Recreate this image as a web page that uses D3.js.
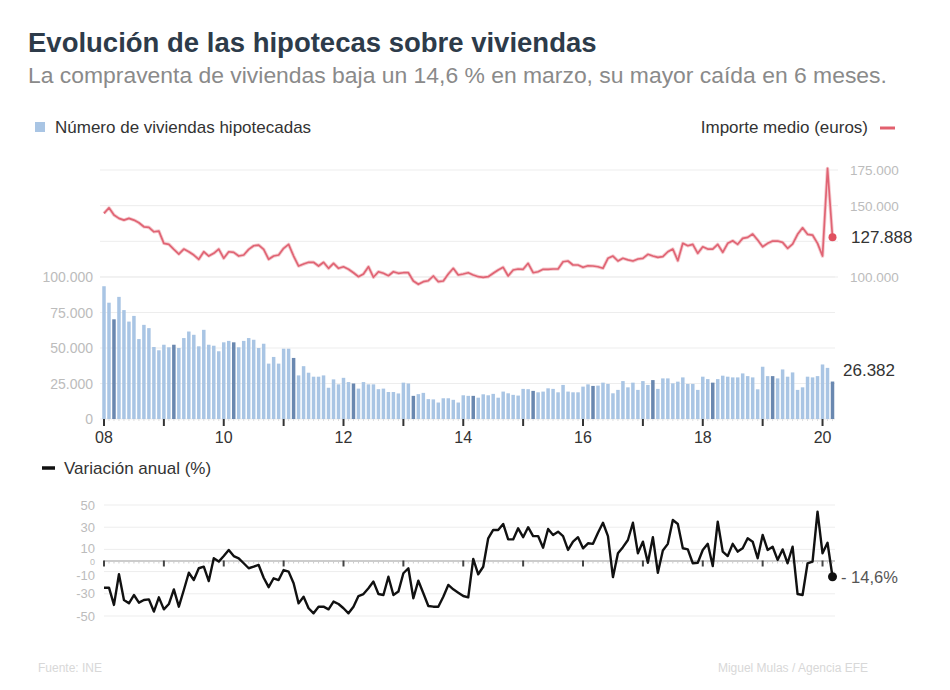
<!DOCTYPE html>
<html>
<head>
<meta charset="utf-8">
<script src="https://cdn.jsdelivr.net/npm/d3@7"></script>
<style>
	body { margin: 0; background: #fff; }
	svg { font-family: "Liberation Sans", Arial, sans-serif; }
</style>
</head>
<body>
<div id="chart"></div>
<script>

// meses desde enero 2008 hasta marzo 2020
var yearLabels = ["08", "10", "12", "14", "16", "18", "20"]

// número de viviendas hipotecadas
var hipotecas = [
	93500,81900,70200,86000,76700,68600,72600,56300,66300,64000,50700,48400,
	52300,50500,52300,50000,57000,61600,59300,51200,62800,52300,51600,47700,
	54000,55000,54000,50500,55000,57000,55800,50000,53000,39000,43700,39000,
	49500,49500,43000,30700,37200,32600,29800,29800,30700,22000,27900,24400,
	29000,26000,25000,21400,26000,24400,24400,21000,21400,19000,19000,18000,
	25600,25000,16300,17500,18400,14000,13800,11600,14600,14600,13500,11600,
	16700,16300,16300,15000,17400,16700,17700,15000,19300,18100,17000,16500,
	21200,21000,19800,18800,19300,21600,21200,18800,24000,19300,18800,18800,
	22800,24400,23300,23500,25600,24700,18100,20500,26700,22300,25600,20500,
	26700,24000,27400,21200,28600,28600,25100,26300,29300,24700,24700,20500,
	29800,28100,25600,28100,30500,29800,29300,29300,32100,30200,29300,20900,
	36800,30200,30200,28600,34900,29800,32800,20500,22300,29800,29300,30200,
	38400,36000,26382]

// importe medio (euros)
var importe = [
	144600,148500,143400,141100,139900,141100,139900,138000,135200,134800,131700,132200,
	123600,122900,119400,116100,119600,117700,115400,112400,117700,114700,116600,119600,
	113100,117700,117300,114700,115400,119400,121900,122400,119400,112400,114700,115400,
	120100,122900,114700,107700,109100,110300,110300,107700,110300,106100,109600,106100,
	107200,105400,103000,100200,102100,107200,99800,103700,102600,100900,103700,102600,
	103000,103000,97200,94900,96700,97400,100700,96700,97200,102100,106100,101400,
	102100,103000,101400,100200,99800,100200,102600,104900,106800,100700,104900,105600,
	105400,109600,103000,103700,105400,105400,105600,105600,110700,111200,108400,108400,
	106800,107900,107700,107200,106100,113100,114700,111200,113100,112000,111200,112600,
	113100,115900,114700,113800,114300,117700,119600,111400,123600,121900,122900,116600,
	121200,119600,119600,122900,117300,123600,125400,122900,127100,127800,130100,125900,
	121200,123600,125200,125200,124300,120100,123100,129900,134500,129900,129400,123600,
	114700,176100,127888]

// variación anual (%)
var variacion = [
	-24.5,-24.5,-40,-12.4,-35.6,-38.6,-31.1,-38,-35.6,-35,-46,-33.2,
	-44,-39.2,-26,-41.6,-26.6,-11,-17.6,-7,-5.6,-18.5,2,-1,
	4,9.5,4,2,-2.5,-7,-5.6,-4,-15.5,-24,-16,-17.6,
	-8.6,-10,-20.5,-38.6,-32.6,-43,-47.6,-41.6,-41.6,-44,-37,-39.2,
	-43,-47.6,-41.6,-32,-30.2,-25,-19,-30.2,-31.1,-14.6,-31.1,-28,
	-11.5,-7,-34,-18.2,-29.5,-41,-41.6,-41.6,-32.6,-22,-26,-29,
	-32,-33.2,1.4,-12.4,-5.6,20,27.5,27.5,32.9,19,19,29,
	21,30,22,22,11.5,28.4,23,26,22,9.5,17,21,
	11,15.5,15,25,34,22,-15,6.5,12,18.5,34,6.5,
	17,-2,21,-11,9,15,36.5,32.9,11,10,-2.5,-2,
	9.5,15,-5,35,8,4,15,8,11,20,17,2,
	23,9.5,12.4,0.5,10,-2.5,12.4,-30.2,-31.1,-2.5,-1,44,
	6.5,16,-14.6]

var importeTicks = [100000, 125000, 150000, 175000]
var hipotecasTicks = [0, 25000, 50000, 75000, 100000]
var variacionGrid = [-50, -30, -10, 10, 30, 50]
var variacionTicks = [50, 30, 10, 0, -10, -30, -50]

var width = 950, height = 690;
var n = hipotecas.length;
var last = n - 1;

var fmt = d3.formatLocale({decimal: ",", thousands: ".", grouping: [3], currency: ["", "€"]}).format(",d");

var svg = d3.select("#chart").append("svg")
	.attr("width", width)
	.attr("height", height);

var left = 100, right = 838;

var x = d3.scaleBand()
	.domain(d3.range(n))
	.range([101.5, 835])
	.paddingInner(0.3)
	.paddingOuter(0.15);

var cx = function(i) { return x(i) + x.bandwidth() / 2 };

var yR = d3.scaleLinear().domain([100000, 175000]).range([277, 170]);
var yB = d3.scaleLinear().domain([0, 100000]).range([419, 277]);
var yV = d3.scaleLinear().domain([-50, 50]).range([616, 505]);

var grid = "#ededed";
var light = "#bcbcbc";

// titulos
svg.append("text")
	.attr("x", 28).attr("y", 52)
	.style("font-size", "27.5px").style("font-weight", "bold")
	.style("fill", "#2d3b4a")
	.text("Evolución de las hipotecas sobre viviendas");

svg.append("text")
	.attr("x", 28).attr("y", 83)
	.style("font-size", "22.9px")
	.style("fill", "#8a8a8a")
	.text("La compraventa de viviendas baja un 14,6 % en marzo, su mayor caída en 6 meses.");

// leyendas
svg.append("rect")
	.attr("x", 35).attr("y", 122).attr("width", 10).attr("height", 10)
	.attr("fill", "#a9c5e4");

svg.append("text")
	.attr("x", 55).attr("y", 133)
	.style("font-size", "17px").style("fill", "#333")
	.text("Número de viviendas hipotecadas");

svg.append("text")
	.attr("x", 868).attr("y", 133)
	.attr("text-anchor", "end")
	.style("font-size", "17px").style("fill", "#333")
	.text("Importe medio (euros)");

svg.append("line")
	.attr("x1", 880).attr("x2", 895).attr("y1", 128).attr("y2", 128)
	.attr("stroke", "#e2606e").attr("stroke-width", 3);

svg.append("line")
	.attr("x1", 42).attr("x2", 55).attr("y1", 468).attr("y2", 468)
	.attr("stroke", "#111").attr("stroke-width", 3.5);

svg.append("text")
	.attr("x", 64).attr("y", 474)
	.style("font-size", "17px").style("fill", "#333")
	.text("Variación anual (%)");

// rejillas
svg.append("g").selectAll("line")
	.data(importeTicks)
	.enter().append("line")
	.attr("x1", left).attr("x2", right)
	.attr("y1", d => yR(d)).attr("y2", d => yR(d))
	.attr("stroke", grid);

svg.append("g").selectAll("line")
	.data(hipotecasTicks)
	.enter().append("line")
	.attr("x1", left).attr("x2", 835)
	.attr("y1", d => yB(d)).attr("y2", d => yB(d))
	.attr("stroke", grid);

svg.append("g").selectAll("line")
	.data(variacionGrid)
	.enter().append("line")
	.attr("x1", 104).attr("x2", 835)
	.attr("y1", d => yV(d)).attr("y2", d => yV(d))
	.attr("stroke", grid);

// etiquetas de ejes
svg.append("g").selectAll("text")
	.data(importeTicks.filter(d => d != 125000))
	.enter().append("text")
	.attr("x", 850).attr("y", d => yR(d) + 5)
	.style("font-size", "13.5px").style("fill", light)
	.text(d => fmt(d));

svg.append("g").selectAll("text")
	.data(hipotecasTicks)
	.enter().append("text")
	.attr("x", 93).attr("y", d => yB(d) + 5)
	.attr("text-anchor", "end")
	.style("font-size", "14px").style("fill", light)
	.text(d => fmt(d));

// el cero va más pequeño y el -10 algo más abajo, como en el original
var vOffset = function(d) {
	if (d == 0) return 4;
	if (d == -10) return 8.5;
	if (d == 10) return 4;
	return 4.5;
}

svg.append("g").selectAll("text")
	.data(variacionTicks)
	.enter().append("text")
	.attr("x", 95).attr("y", d => yV(d) + vOffset(d))
	.attr("text-anchor", "end")
	.style("font-size", d => d == 0 ? "9px" : "13px").style("fill", light)
	.text(d => d);

// barras
svg.append("g").selectAll("rect")
	.data(hipotecas)
	.enter().append("rect")
	.attr("x", (d, i) => x(i))
	.attr("width", x.bandwidth())
	.attr("y", d => yB(d))
	.attr("height", d => yB(0) - yB(d))
	.attr("fill", (d, i) => i % 12 == 2 ? "#6a88b0" : "#a9c5e4");

// eje x barras
var xMinor = d3.axisBottom(x).tickSize(2).tickFormat("");
var xMajor = d3.axisBottom(x)
	.tickValues(d3.range(0, n, 12))
	.tickSize(7).tickPadding(6)
	.tickFormat(i => (i / 12) % 2 == 0 ? yearLabels[i / 24] : "");

var gx1 = svg.append("g").attr("transform", "translate(0," + yB(0) + ")").call(xMinor);
gx1.select(".domain").remove();
gx1.selectAll(".tick line").attr("stroke", "#ddd");

var gx2 = svg.append("g").attr("transform", "translate(0," + yB(0) + ")").call(xMajor);
gx2.select(".domain").remove();
gx2.selectAll(".tick line").attr("stroke", "#333").attr("stroke-width", 2);
gx2.selectAll(".tick text")
	.style("font-size", "16px").style("fill", "#333")
	.style("font-family", "Liberation Sans, Arial, sans-serif");

// linea importe medio
var lineR = d3.line()
	.x((d, i) => cx(i))
	.y(d => yR(d));

svg.append("path")
	.datum(importe)
	.attr("d", lineR)
	.attr("fill", "none")
	.attr("stroke", "#f5ccd0")
	.attr("stroke-width", 3.5)
	.attr("stroke-linejoin", "round");

svg.append("path")
	.datum(importe)
	.attr("d", lineR)
	.attr("fill", "none")
	.attr("stroke", "#e06474")
	.attr("stroke-width", 1.7)
	.attr("stroke-linejoin", "round");

svg.append("circle")
	.attr("cx", cx(last)).attr("cy", yR(importe[last]))
	.attr("r", 4).attr("fill", "#e0505f");

svg.append("text")
	.attr("x", 851).attr("y", yR(importe[last]) + 6)
	.style("font-size", "17px").style("fill", "#333")
	.text(fmt(importe[last]));

svg.append("text")
	.attr("x", 843).attr("y", 376)
	.style("font-size", "17px").style("fill", "#333")
	.text(fmt(hipotecas[last]));

// eje cero variacion
var vMinor = d3.axisBottom(x).tickSize(3).tickFormat("");
var vMajor = d3.axisBottom(x).tickValues(d3.range(0, n, 12)).tickSize(6).tickFormat("");

var gv1 = svg.append("g").attr("transform", "translate(0," + yV(0) + ")").call(vMinor);
gv1.select(".domain").attr("stroke", "#999").attr("d", "M104,0.5H835");
gv1.selectAll(".tick line").attr("stroke", "#ccc");

var gv2 = svg.append("g").attr("transform", "translate(0," + yV(0) + ")").call(vMajor);
gv2.select(".domain").remove();
gv2.selectAll(".tick line").attr("stroke", "#444").attr("stroke-width", 2);

// linea variacion
var lineV = d3.line()
	.x((d, i) => cx(i))
	.y(d => yV(d));

svg.append("path")
	.datum(variacion)
	.attr("d", lineV)
	.attr("fill", "none")
	.attr("stroke", "#111")
	.attr("stroke-width", 2.4)
	.attr("stroke-linejoin", "round");

svg.append("circle")
	.attr("cx", cx(last)).attr("cy", yV(variacion[last]))
	.attr("r", 4.5).attr("fill", "#111");

svg.append("text")
	.attr("x", 841).attr("y", yV(variacion[last]) + 6)
	.style("font-size", "16.5px").style("fill", "#555")
	.text("- " + String(Math.abs(variacion[last])).replace(".", ",") + "%");

// fuente
svg.append("text")
	.attr("x", 38).attr("y", 672)
	.style("font-size", "12px").style("fill", "#d8d8d8")
	.text("Fuente: INE");

svg.append("text")
	.attr("x", 868).attr("y", 672)
	.attr("text-anchor", "end")
	.style("font-size", "12px").style("fill", "#d8d8d8")
	.text("Miguel Mulas / Agencia EFE");

</script>
</body>
</html>
